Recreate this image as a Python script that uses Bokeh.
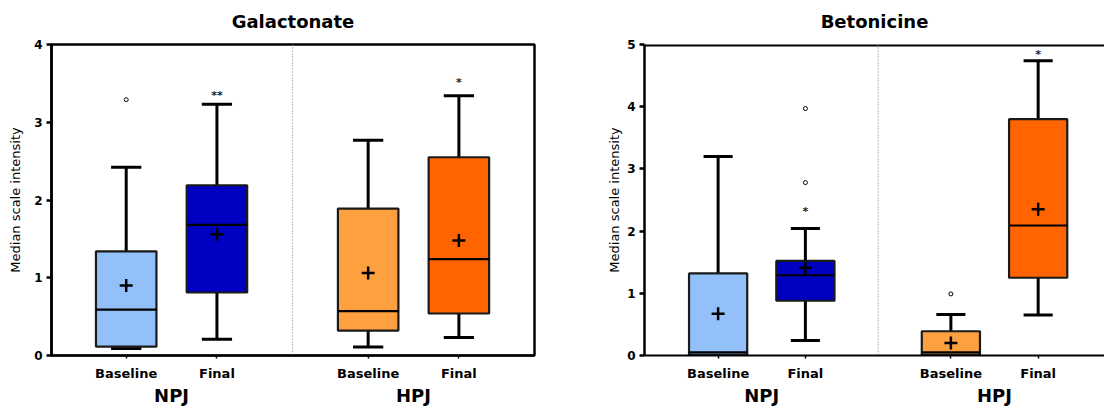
from bokeh.plotting import figure
from bokeh.layouts import row
from bokeh.models import FixedTicker, LinearAxis, Span, Range1d
from bokeh.embed import file_html
from bokeh.resources import INLINE
from bokeh.core.properties import value

# ---------------- data ----------------
categories = ["Baseline", "Final"]
groups = ["NPJ", "HPJ"]
box_colors = ["#93c0f8", "#0000c0", "#ffa040", "#ff6400"]

# Galactonate (order: NPJ Baseline, NPJ Final, HPJ Baseline, HPJ Final)
gal_lower = [0.09, 0.21, 0.11, 0.23]
gal_q1 = [0.115, 0.81, 0.32, 0.54]
gal_median = [0.59, 1.68, 0.57, 1.24]
gal_q3 = [1.34, 2.19, 1.89, 2.55]
gal_upper = [2.42, 3.23, 2.77, 3.34]
gal_mean = [0.90, 1.56, 1.06, 1.48]
gal_out_box = [0]
gal_out_val = [3.29]
gal_sig = ["", "**", "", "*"]
gal_sig_y = [0, 3.35, 0, 3.51]

# Betonicine
bet_lower = [0.0, 0.24, 0.0, 0.65]
bet_q1 = [0.01, 0.88, 0.01, 1.25]
bet_median = [0.05, 1.29, 0.05, 2.09]
bet_q3 = [1.32, 1.52, 0.39, 3.80]
bet_upper = [3.20, 2.04, 0.66, 4.74]
bet_mean = [0.67, 1.41, 0.20, 2.35]
bet_out_box = [1, 1, 2]
bet_out_val = [3.97, 2.78, 0.99]
bet_sig = ["", "*", "", "*"]
bet_sig_y = [0, 2.31, 0, 4.84]

# ---------------- layout constants ----------------
SUB_STEP = 3
GROUP_STEP = 8
BOX_W = 2.0
CAP_W = 1.0
FONT = "DejaVu Sans"

xs = [g * GROUP_STEP + c * SUB_STEP for g in range(len(groups)) for c in range(len(categories))]
labels = [c for g in groups for c in categories]
group_centers = [g * GROUP_STEP + (len(categories) - 1) * SUB_STEP / 2 for g in range(len(groups))]


def make_panel(title, ymax, lower, q1, med, q3, upper, mean, out_box, out_val, sig, sig_y,
               width, x_start, x_end, border_left, border_right, label_standoff, outline):
    p = figure(width=width, height=408, x_range=Range1d(x_start, x_end),
               y_range=Range1d(0, ymax), output_backend="svg", toolbar_location=None,
               min_border_left=border_left, min_border_right=border_right,
               min_border_top=44, min_border_bottom=53)
    p.xgrid.visible = False
    p.ygrid.visible = False
    p.background_fill_color = "white"
    p.border_fill_color = "white"
    if outline:
        p.outline_line_color = "black"
        p.outline_line_width = 2.5
        p.outline_line_alpha = 1
    else:
        p.outline_line_color = None
        p.add_layout(Span(location=ymax, dimension="width", line_color="black", line_width=4))

    p.title.text = title
    p.title.align = "center"
    p.title.vertical_align = "top"
    p.title.text_font = FONT
    p.title.text_font_size = "18px"
    p.title.text_font_style = "bold"
    p.title.text_color = "black"
    p.title.standoff = 21

    # separator between groups
    sep = (xs[len(categories) - 1] + xs[len(categories)]) / 2
    p.add_layout(Span(location=sep, dimension="height", line_color="#8c8c8c",
                      line_dash="1 2", line_width=1.2))

    left = [x - BOX_W / 2 for x in xs]
    right = [x + BOX_W / 2 for x in xs]
    cl = [x - CAP_W / 2 for x in xs]
    cr = [x + CAP_W / 2 for x in xs]

    # whiskers and caps
    p.segment(x0=xs, y0=q3, x1=xs, y1=upper, line_color="black", line_width=3)
    p.segment(x0=xs, y0=q1, x1=xs, y1=lower, line_color="black", line_width=3)
    p.segment(x0=cl, y0=upper, x1=cr, y1=upper, line_color="black", line_width=3)
    p.segment(x0=cl, y0=lower, x1=cr, y1=lower, line_color="black", line_width=3)

    # boxes
    p.vbar(x=xs, width=BOX_W, bottom=q1, top=q3, fill_color=box_colors,
           line_color="#1a1a1a", line_width=2.2)
    p.segment(x0=left, y0=med, x1=right, y1=med, line_color="black", line_width=2.2)

    # means
    p.scatter(x=xs, y=mean, marker="cross", size=13, line_width=2.5, line_color="black")

    # outliers
    p.scatter(x=[xs[i] for i in out_box], y=out_val, marker="circle", size=4,
              fill_color="white", line_color="black", line_width=1)

    # significance marks
    sx = [xs[i] for i in range(len(sig)) if sig[i]]
    sy = [sig_y[i] for i in range(len(sig)) if sig[i]]
    st = [s for s in sig if s]
    p.text(x=sx, y=sy, text=st, text_align="center", text_baseline="middle",
           text_font=value(FONT), text_font_size="11px", text_font_style="bold",
           text_color="#222222")

    # x axis (categories)
    xa = p.xaxis[0]
    xa.ticker = FixedTicker(ticks=xs)
    xa.major_label_overrides = {x: lab for x, lab in zip(xs, labels)}
    xa.minor_tick_line_color = None
    xa.minor_tick_out = 0
    xa.minor_tick_in = 0
    xa.major_tick_in = 0
    xa.major_tick_out = 3
    xa.major_tick_line_width = 1.5
    xa.axis_line_width = 2
    xa.axis_line_color = "black"
    xa.major_label_standoff = 7
    xa.major_label_text_font = FONT
    xa.major_label_text_font_size = "13px"
    xa.major_label_text_font_style = "bold"
    xa.major_label_text_color = "black"

    # group axis
    ga = LinearAxis(ticker=FixedTicker(ticks=group_centers),
                    major_label_overrides={c: g for c, g in zip(group_centers, groups)})
    ga.axis_line_color = None
    ga.major_tick_line_color = None
    ga.minor_tick_line_color = None
    ga.major_tick_out = 0
    ga.major_tick_in = 0
    ga.minor_tick_out = 0
    ga.minor_tick_in = 0
    ga.major_label_standoff = 1
    ga.major_label_text_font = FONT
    ga.major_label_text_font_size = "18px"
    ga.major_label_text_font_style = "bold"
    ga.major_label_text_color = "black"
    p.add_layout(ga, "below")

    # y axis
    ya = p.yaxis[0]
    ya.ticker = FixedTicker(ticks=list(range(int(ymax) + 1)))
    ya.minor_tick_line_color = None
    ya.major_tick_in = 0
    ya.major_tick_out = 5
    ya.major_tick_line_width = 2.5
    ya.axis_line_width = 2.5
    ya.axis_line_color = "black"
    ya.major_label_standoff = 4
    ya.major_label_text_font = FONT
    ya.major_label_text_font_size = "12px"
    ya.major_label_text_font_style = "bold"
    ya.major_label_text_color = "black"
    ya.axis_label = "Median scale intensity"
    ya.axis_label_text_font = FONT
    ya.axis_label_text_font_size = "13px"
    ya.axis_label_text_font_style = "normal"
    ya.axis_label_text_color = "black"
    ya.axis_label_standoff = label_standoff
    return p


p1 = make_panel("Galactonate", 4, gal_lower, gal_q1, gal_median, gal_q3, gal_upper, gal_mean,
                gal_out_box, gal_out_val, gal_sig, gal_sig_y,
                width=580, x_start=-2.47, x_end=13.5, border_left=51, border_right=46,
                label_standoff=8, outline=True)
p2 = make_panel("Betonicine", 5, bet_lower, bet_q1, bet_median, bet_q3, bet_upper, bet_mean,
                bet_out_box, bet_out_val, bet_sig, bet_sig_y,
                width=524, x_start=-2.53, x_end=13.28, border_left=64, border_right=0,
                label_standoff=2, outline=False)

layout = row(p1, p2)
open("out.html", "w").write(file_html(layout, INLINE))
